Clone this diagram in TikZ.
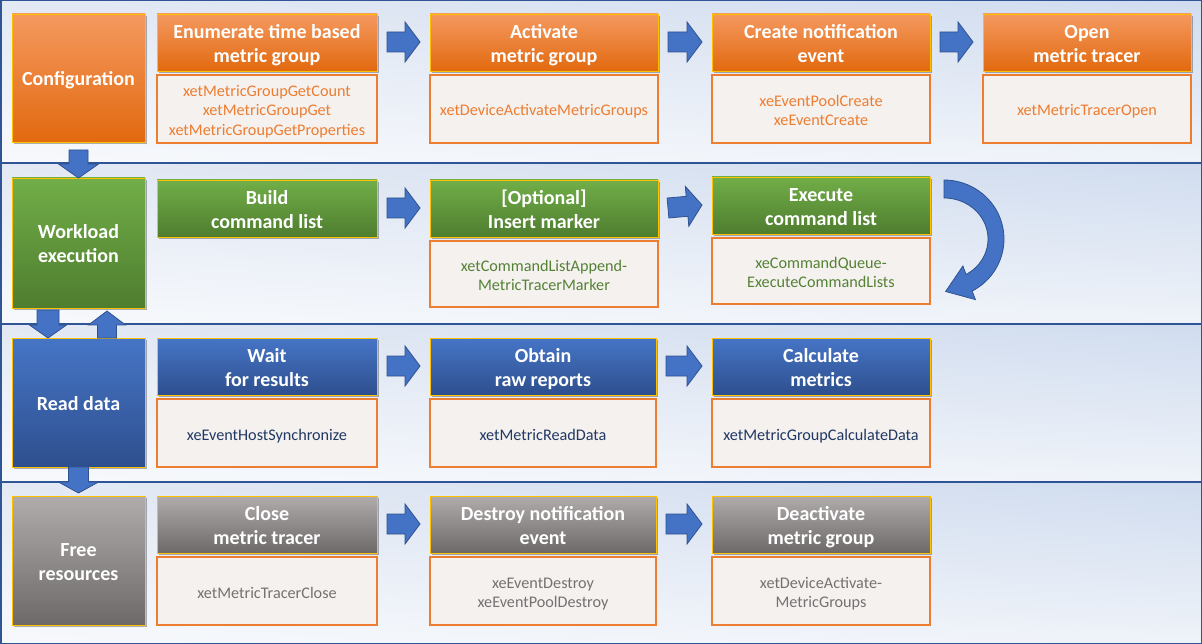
\documentclass[tikz,border=0pt]{standalone}
\usepackage{fontspec}
\setmainfont{Carlito}
\usetikzlibrary{calc,shadows,shadings}
\definecolor{orT}{HTML}{F4995F}
\definecolor{orB}{HTML}{E2690F}
\definecolor{grT}{HTML}{71AE48}
\definecolor{grB}{HTML}{4F7D2F}
\definecolor{blT}{HTML}{4675C6}
\definecolor{blB}{HTML}{2E4F8E}
\definecolor{gyT}{HTML}{B0ACAB}
\definecolor{gyB}{HTML}{6E6969}
\definecolor{gold}{HTML}{FFC000}
\definecolor{apiorange}{HTML}{ED7D31}
\definecolor{apifill}{HTML}{F5F1EF}
\definecolor{apigreen}{HTML}{548235}
\definecolor{apinavy}{HTML}{203864}
\definecolor{apigray}{HTML}{767171}
\definecolor{arrfill}{HTML}{4472C4}
\definecolor{arrdraw}{HTML}{2F528F}
\definecolor{bandline}{HTML}{2F5597}
\definecolor{bandUL}{HTML}{E3E9F4}
\definecolor{bandUR}{HTML}{D0DCEF}
\definecolor{bandLL}{HTML}{F7F9FC}
\definecolor{bandLR}{HTML}{EFF3F9}
\newcommand\blockarr[5]{%
  \path (#1) coordinate (ba) (#2) coordinate (be);
  \path ($(be)!#5!(ba)$) coordinate (bb);
  \draw[blockarrow] ($(ba)!#3!90:(be)$) -- ($(bb)!#3!90:(be)$) -- ($(bb)!#4!90:(be)$) -- (be)
    -- ($(bb)!#4!-90:(be)$) -- ($(bb)!#3!-90:(be)$) -- ($(ba)!#3!-90:(be)$) -- cycle;}
\newcommand\harr[2]{\blockarr{$(#1.north east)+(10,28)$}{$(#2.north west)+(-10,28)$}{10pt}{20pt}{15pt}}
\begin{document}
\begin{tikzpicture}[x=1pt,y=-1pt,
  box/.style={anchor=north west, outer sep=0pt, inner sep=2pt, align=center, text depth=0pt},
  shad/.style={drop shadow={shadow xshift=1.5pt, shadow yshift=-2pt, opacity=0.3, fill=black}},
  side/.style={box, shad, draw=gold, line width=0.9pt, minimum width=133pt, text=white,
    font=\fontsize{20}{24}\selectfont\bfseries, text height=15.5pt},
  side2/.style={side, text height=39.5pt},
  hdr/.style={box, shad, draw=gold, line width=0.9pt, minimum height=57pt, text=white,
    font=\fontsize{20}{24}\selectfont\bfseries, text height=40pt},
  api/.style={box, draw=apiorange, line width=2.4pt, fill=apifill, minimum height=68pt,
    font=\fontsize{16.2}{19.5}\selectfont, text height=14pt},
  api2/.style={api, text height=33.5pt},
  api3/.style={api, text height=53pt},
  orng/.style={top color=orT, bottom color=orB},
  grn/.style={top color=grT, bottom color=grB},
  blu/.style={top color=blT, bottom color=blB},
  gry/.style={top color=gyT, bottom color=gyB},
  blockarrow/.style={fill=arrfill, draw=arrdraw, line width=0.8pt, line join=miter},
]
\useasboundingbox (0,0) rectangle (1202,644);
% bands
\foreach \a/\b in {0/163,163/324,324/482,482/644}{
  \shade[upper left=bandUL, upper right=bandUR, lower left=bandLL, lower right=bandLR] (0,\a) rectangle (1202,\b);}
\draw[bandline, line width=1.5pt] (0.75,0.75) rectangle (1201.25,643.25);
\foreach \a in {163,324,482}{\draw[bandline, line width=1.5pt] (0,\a) -- (1202,\a);}

% side boxes
\node[side, orng, minimum height=128pt] (cfg) at (12,14) {Configuration};
\node[side2, grn, minimum height=130pt] (wl) at (12,178) {Workload\\execution};
\node[side, blu, minimum height=129pt] (rd) at (12,338) {Read data};
\node[side2, gry, minimum height=129pt] (fr) at (12,496) {Free\\resources};

% row 1
\node[hdr, orng, minimum width=220pt] (h11) at (157,14) {Enumerate time based\\metric group};
\node[hdr, orng, minimum width=228pt] (h12) at (430,14) {Activate\\metric group};
\node[hdr, orng, minimum width=218pt] (h13) at (712,14) {Create notification\\event};
\node[hdr, orng, minimum width=208pt] (h14) at (983,14) {Open\\metric tracer};
\node[api3, text=apiorange, minimum width=220pt] (a11) at (157,75) {xetMetricGroupGetCount\\xetMetricGroupGet\\xetMetricGroupGetProperties};
\node[api, text=apiorange, minimum width=228pt] (a12) at (430,75) {xetDeviceActivateMetricGroups};
\node[api2, text=apiorange, minimum width=218pt] (a13) at (712,75) {xeEventPoolCreate\\xeEventCreate};
\node[api, text=apiorange, minimum width=208pt] (a14) at (983,75) {xetMetricTracerOpen};

% row 2
\node[hdr, grn, minimum width=220pt] (h21) at (157,180) {Build\\command list};
\node[hdr, grn, minimum width=228pt] (h22) at (430,180) {[Optional]\\Insert marker};
\node[hdr, grn, minimum width=218pt] (h23) at (712,177) {Execute\\command list};
\node[api2, text=apigreen, minimum width=228pt, minimum height=66pt] (a22) at (430,241) {xetCommandListAppend-\\MetricTracerMarker};
\node[api2, text=apigreen, minimum width=218pt, minimum height=66pt] (a23) at (712,238) {xeCommandQueue-\\ExecuteCommandLists};

% row 3
\node[hdr, blu, minimum width=220pt] (h31) at (157,338) {Wait\\for results};
\node[hdr, blu, minimum width=226pt] (h32) at (430,338) {Obtain\\raw reports};
\node[hdr, blu, minimum width=218pt] (h33) at (712,338) {Calculate\\metrics};
\node[api, text=apinavy, minimum width=220pt] (a31) at (157,399) {xeEventHostSynchronize};
\node[api, text=apinavy, minimum width=226pt] (a32) at (430,399) {xetMetricReadData};
\node[api, text=apinavy, minimum width=218pt] (a33) at (712,399) {xetMetricGroupCalculateData};

% row 4
\node[hdr, gry, minimum width=220pt] (h41) at (157,496) {Close\\metric tracer};
\node[hdr, gry, minimum width=226pt] (h42) at (430,496) {Destroy notification\\event};
\node[hdr, gry, minimum width=218pt] (h43) at (712,496) {Deactivate\\metric group};
\node[api, text=apigray, minimum width=220pt] (a41) at (157,557) {xetMetricTracerClose};
\node[api2, text=apigray, minimum width=226pt] (a42) at (430,557) {xeEventDestroy\\xeEventPoolDestroy};
\node[api2, text=apigray, minimum width=218pt] (a43) at (712,557) {xetDeviceActivate-\\MetricGroups};

% horizontal block arrows
\harr{h11}{h12}\harr{h12}{h13}\harr{h13}{h14}
\harr{h21}{h22}\harr{h22}{h23}
\harr{h31}{h32}\harr{h32}{h33}
\harr{h41}{h42}\harr{h42}{h43}

% vertical block arrows
\blockarr{$(cfg.south)+(0,8)$}{wl.north}{9.5pt}{20pt}{14pt}
\blockarr{$(wl.south west)+(36,2)$}{$(rd.north west)+(36,0)$}{11pt}{18.5pt}{13pt}
\blockarr{$(rd.north west)+(95,0)$}{$(wl.south west)+(95,3)$}{9.5pt}{18.5pt}{14pt}
\blockarr{rd.south}{$(fr.north)+(0,-3)$}{10pt}{20pt}{11pt}

% curved loop arrow at "Execute command list"
\coordinate (cc) at ($(h23.north east)+(14,62)$);
\begin{scope}[shift={(cc)}]
\draw[blockarrow] plot[domain=-90:62, samples=40, smooth] ({60*cos(\x)},{59*sin(\x)})
  -- (31.4,60.6) -- (1.6,52.5) -- (18.9,27.0)
  -- plot[domain=60:-90, samples=40, smooth] ({44*cos(\x)},{41*sin(\x)}) -- cycle;
\end{scope}
\end{tikzpicture}
\end{document}
